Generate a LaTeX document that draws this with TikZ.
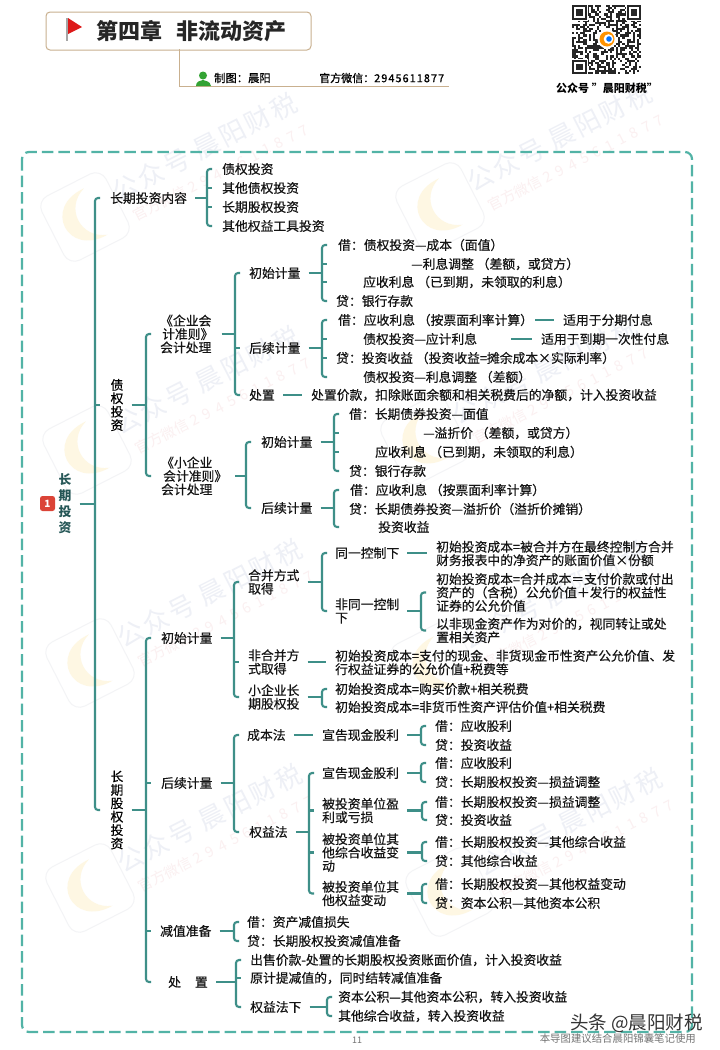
\documentclass[tikz,border=0pt]{standalone}
\usepackage{fontspec}
\setmainfont{Noto Sans CJK SC}
\newfontfamily\heavyf{Noto Sans CJK SC}[FakeBold=0.45]
\usetikzlibrary{calc}
\definecolor{teal1}{HTML}{3E8F88}
\definecolor{frame1}{HTML}{52B3A6}
\definecolor{tan1}{HTML}{C9B08F}
\definecolor{wmA}{HTML}{EEF0F6}
\definecolor{wmB}{HTML}{FBF0F1}
\definecolor{wmC}{HTML}{FEF7E3}
\definecolor{wmD}{HTML}{F3F4F6}
\definecolor{badgeR}{HTML}{DB4437}
\tikzset{
  txt/.style={anchor=west,inner sep=0pt,align=left,text=black!92,font=\heavyf\fontsize{12.8}{13.4}\selectfont},
  vert/.style={inner sep=0pt,align=center,font=\heavyf\fontsize{12.8}{13.4}\selectfont},
  conn/.style={draw=teal1,line width=2.1pt},
}
\newcommand\T[4]{\node[txt] (#1) at (#2,#3) {#4};}
\newcommand\brk[4]{%
  \coordinate (sp) at (#2,0);
  \draw[conn] ([xshift=8pt]#1.east) -- (sp |- #1.east);
  \draw[conn,rounded corners=3pt] ([xshift=5pt]sp |- #3.west) -- (sp |- #3.west) -- (sp |- #4.west) -- ([xshift=5pt]sp |- #4.west);
}
\newcommand\tk[1]{\foreach \m in {#1} {\draw[conn] (sp |- \m.west) -- ([xshift=5pt]sp |- \m.west);}}
\newcommand\lnk[3][8pt]{\draw[conn] ([xshift=#1]#2.east) -- ([xshift=-9pt]#2.east -| #3.west);}
\newcommand\wm[2]{%
  \begin{scope}[shift={(#1,#2)},rotate=27,transform shape]
    \draw[wmD,line width=1pt,rounded corners=12pt,fill=white] (-36,-36) rectangle (36,36);
    \fill[wmC] (12,-26) .. controls (-34,-28) and (-34,28) .. (12,26) .. controls (-14,17) and (-14,-17) .. (12,-26) -- cycle;
    \node[inner sep=0pt,anchor=west,text=wmA,font=\fontsize{26}{26}\selectfont\addfontfeature{LetterSpace=10}] at (36,-8) {公众号 晨阳财税};
    \node[inner sep=0pt,anchor=west,text=wmB,font=\fontsize{14.5}{15}\selectfont] at (44,22) {官方微信 {\addfontfeature{LetterSpace=40}2945611877}};
  \end{scope}}
\begin{document}
\begin{tikzpicture}[x=1pt,y=-1pt]
\useasboundingbox (0,0) rectangle (720,1050);
\fill[white] (0,0) rectangle (720,1050);
% watermarks
\wm{85}{217}\wm{440}{207}
\wm{87}{450}\wm{425}{440}
\wm{90}{663}\wm{435}{665}
\wm{90}{888}\wm{450}{892}
% header
\node[draw=tan1,line width=1pt,rounded corners=4pt,fill=white,minimum width=265pt,minimum height=38pt,inner sep=0pt] (titlebox) at (178.5,31) {};
\draw[black!35,line width=1.2pt] (67,18) -- (67,41);
\fill[red!85!black!90!white] (68,18) -- (82,27) -- (68,34) -- cycle;
\node[inner sep=0pt,anchor=west,font=\fontsize{22}{22}\selectfont\bfseries,text=black!85] (title) at (96,31) {第四章\hspace{14pt}非流动资产};
\coordinate (undr) at (449,86);
\draw[tan1,line width=1pt] (179,49) |- (undr);
\fill[green!55!black!80!white] (203,75.5) circle (4);
\fill[green!55!black!80!white] (196,86) .. controls (196,81) and (200,81) .. (203,80) .. controls (206,81) and (210,81) .. (211,86) -- cycle;
\node[inner sep=0pt,anchor=west,font=\heavyf\fontsize{11.3}{12}\selectfont] (maker) at (214,78) {制图：晨阳};
\node[inner sep=0pt,anchor=west,font=\heavyf\fontsize{11}{12}\selectfont] (wx) at (319,78) {官方微信：{\addfontfeature{LetterSpace=9}2945611877}};
% QR
\pgfmathsetseed{11}
\begin{scope}[shift={(572,5)}]
\foreach \i in {0,...,32}{\foreach \j in {0,...,32}{
  \pgfmathparse{rnd>0.48?1:0}\ifnum\pgfmathresult=1\relax
  \fill[black!85] ({\i*2.1},{\j*2.1}) rectangle +(2.15,2.15);\fi}}
\foreach \a/\b in {0/0,26/0,0/26}{
  \fill[white] ({\a*2.1-1},{\b*2.1-1}) rectangle +(17,17);
  \draw[black!85,line width=2.1pt] ({\a*2.1+1.05},{\b*2.1+1.05}) rectangle +(12.6,12.6);
  \fill[black!85] ({\a*2.1+4.2},{\b*2.1+4.2}) rectangle +(6.3,6.3);}
\fill[white] (35,34) circle (9.5);
\fill[orange!85!yellow] (35,34) circle (7.5);
\fill[white] (36.5,34) circle (4.8);
\fill[blue!55!cyan] (37,34) circle (2.8);
\end{scope}
\node[inner sep=0pt,font=\fontsize{11}{12}\selectfont\bfseries] (gzh) at (607,88) {公众号 "晨阳财税"};
% frame
\draw[frame1,line width=2.2pt,dash pattern=on 11.5pt off 5pt,rounded corners=7pt] (22,152) rectangle (692,1032);
% root
\node[fill=badgeR,rounded corners=2.5pt,minimum size=15pt,inner sep=0pt,text=white,font=\fontsize{10}{10}\selectfont\bfseries] (badge) at (47.5,503.5) {1};
\node[inner sep=0pt,align=center,text=teal!45!black!85,font=\fontsize{12.8}{16}\selectfont\bfseries] (root) at (65,504) {长\\期\\投\\资};
% level 1
\T{a}{110}{198}{长期投资内容}
\T{a1}{222}{169}{债权投资}
\T{a2}{222}{188}{其他债权投资}
\T{a3}{222}{207}{长期股权投资}
\T{a4}{222}{226}{其他权益工具投资}
\node[vert] (b) at (117,405) {债\\权\\投\\资};
\node[vert] (c) at (117,810) {长\\期\\股\\权\\投\\资};
% bond
\T{b1}{160}{334}{《企业会\\\hspace{2pt}计准则》\\会计处理}
\T{b2}{161}{476}{《小企业\\\hspace{2pt}会计准则》\\会计处理}
\T{d1}{249}{273}{初始计量}
\T{d1a}{338}{245}{借：债权投资—成本（面值）}
\T{d1b}{411}{264}{—利息调整 （差额，或贷方）}
\T{d1c}{363}{282}{应收利息 （已到期，未领取的利息）}
\T{d1d}{336}{301}{贷：银行存款}
\T{d2}{249}{348}{后续计量}
\T{d2a}{338}{320}{借：应收利息 （按票面利率计算）}
\T{d2ax}{563}{320}{适用于分期付息}
\T{d2b}{363}{339}{债权投资—应计利息}
\T{d2bx}{541}{339}{适用于到期一次性付息}
\T{d2c}{336}{358}{贷：投资收益 （投资收益=摊余成本×实际利率）}
\T{d2d}{363}{377}{债权投资—利息调整 （差额）}
\T{d3}{249}{395}{处置}
\T{d3a}{311}{395}{处置价款，扣除账面余额和相关税费后的净额，计入投资收益}
\T{e1}{261}{442}{初始计量}
\T{e1a}{349}{414}{借：长期债券投资—面值}
\T{e1b}{423}{433}{—溢折价 （差额，或贷方）}
\T{e1c}{375}{452}{应收利息 （已到期，未领取的利息）}
\T{e1d}{349}{471}{贷：银行存款}
\T{e2}{261}{508}{后续计量}
\T{e2a}{350}{490}{借：应收利息 （按票面利率计算）}
\T{e2b}{349}{509}{贷：长期债券投资—溢折价（溢折价摊销）}
\T{e2c}{378}{527}{投资收益}
% equity
\T{f}{161}{638}{初始计量}
\T{f1}{248}{582}{合并方式\\取得}
\T{f11}{335}{553}{同一控制下}
\T{f11a}{436}{553.5}{初始投资成本=被合并方在最终控制方合并\\财务报表中的净资产的账面价值×份额}
\T{f12}{335}{611}{非同一控制\\下}
\T{f12a}{436}{592.5}{初始投资成本=合并成本＝支付价款或付出\\资产的（含税）公允价值＋发行的权益性\\证券的公允价值}
\T{f12b}{436}{630.5}{以非现金资产作为对价的，视同转让或处\\置相关资产}
\T{f2}{248}{662}{非合并方\\式取得}
\T{f2a}{335}{662.5}{初始投资成本=支付的现金、非货现金币性资产公允价值、发\\行权益证券的公允价值+税费等}
\T{f3}{248}{697}{小企业长\\期股权投}
\T{f3a}{335}{689}{初始投资成本=购买价款+相关税费}
\T{f3b}{335}{707}{初始投资成本=非货币性资产评估价值+相关税费}
\T{g}{161}{783}{后续计量}
\T{g1}{247}{735}{成本法}
\T{g11}{322}{735}{宣告现金股利}
\T{g11a}{435}{726}{借：应收股利}
\T{g11b}{435}{745}{贷：投资收益}
\T{g2}{249}{832}{权益法}
\T{g21}{322}{773}{宣告现金股利}
\T{g21a}{435}{763}{借：应收股利}
\T{g21b}{435}{782}{贷：长期股权投资—损益调整}
\T{g22}{322}{810.5}{被投资单位盈\\利或亏损}
\T{g22a}{435}{802}{借：长期股权投资—损益调整}
\T{g22b}{435}{820}{贷：投资收益}
\T{g23}{322}{852.5}{被投资单位其\\他综合收益变\\动}
\T{g23a}{435}{842}{借：长期股权投资—其他综合收益}
\T{g23b}{435}{861}{贷：其他综合收益}
\T{g24}{322}{893.5}{被投资单位其\\他权益变动}
\T{g24a}{435}{884}{借：长期股权投资—其他权益变动}
\T{g24b}{435}{903}{贷：资本公积—其他资本公积}
\T{h}{160}{931}{减值准备}
\T{ha}{247}{922}{借：资产减值损失}
\T{hb}{247}{941}{贷：长期股权投资减值准备}
\T{i}{168}{982}{处\hspace{14pt}置}
\T{ia}{250}{960}{出售价款-处置的长期股权投资账面价值，计入投资收益}
\T{ib}{250}{978}{原计提减值的，同时结转减值准备}
\T{ic}{250}{1007}{权益法下}
\T{ic1}{338}{997}{资本公积—其他资本公积，转入投资收益}
\T{ic2}{338}{1016}{其他综合收益，转入投资收益}
% connectors
\brk{root}{95}{a}{c}\tk{b}
\brk{a}{207}{a1}{a4}\tk{a2,a3}
\brk{b}{146}{b1}{b2}
\brk{b1}{235}{d1}{d3}\tk{d2}
\brk{d1}{322}{d1a}{d1d}\tk{d1b,d1c}
\brk{d2}{322}{d2a}{d2d}\tk{d2b,d2c}
\lnk[2pt]{d2a}{d2ax}\lnk[34pt]{d2b}{d2bx}\lnk{d3}{d3a}
\brk{b2}{246}{e1}{e2}
\brk{e1}{334}{e1a}{e1d}\tk{e1b,e1c}
\brk{e2}{334}{e2a}{e2c}
\brk{c}{146}{f}{i}\tk{g,h}
\brk{f}{234}{f1}{f3}\tk{f2}
\brk{f1}{322}{f11}{f12}
\lnk{f11}{f11a}
\brk{f12}{421}{f12a}{f12b}
\lnk{f2}{f2a}
\brk{f3}{322}{f3a}{f3b}
\brk{g}{234}{g1}{g2}
\lnk{g1}{g11}
\brk{g11}{421}{g11a}{g11b}
\brk{g2}{309}{g21}{g24}\tk{g22,g23}
\brk{g21}{421}{g21a}{g21b}
\brk{g22}{422}{g22a}{g22b}
\brk{g23}{422}{g23a}{g23b}
\brk{g24}{422}{g24a}{g24b}
\brk{h}{234}{ha}{hb}
\brk{i}{236}{ia}{ic}\tk{ib}
\brk{ic}{327}{ic1}{ic2}
% footer
\node[inner sep=0pt,text=black!55,font=\fontsize{9}{10}\selectfont] (pg) at (357,1040) {11};
\node[inner sep=0pt,anchor=east,text=black!55,font=\fontsize{10.4}{11}\selectfont] (note) at (696,1039) {本导图建议结合晨阳锦囊笔记使用};
\node[inner sep=1pt,anchor=east,text=black!80,font=\fontsize{18.5}{19}\selectfont] (mark) at (704,1023) {头条 @晨阳财税};
\end{tikzpicture}
\end{document}
